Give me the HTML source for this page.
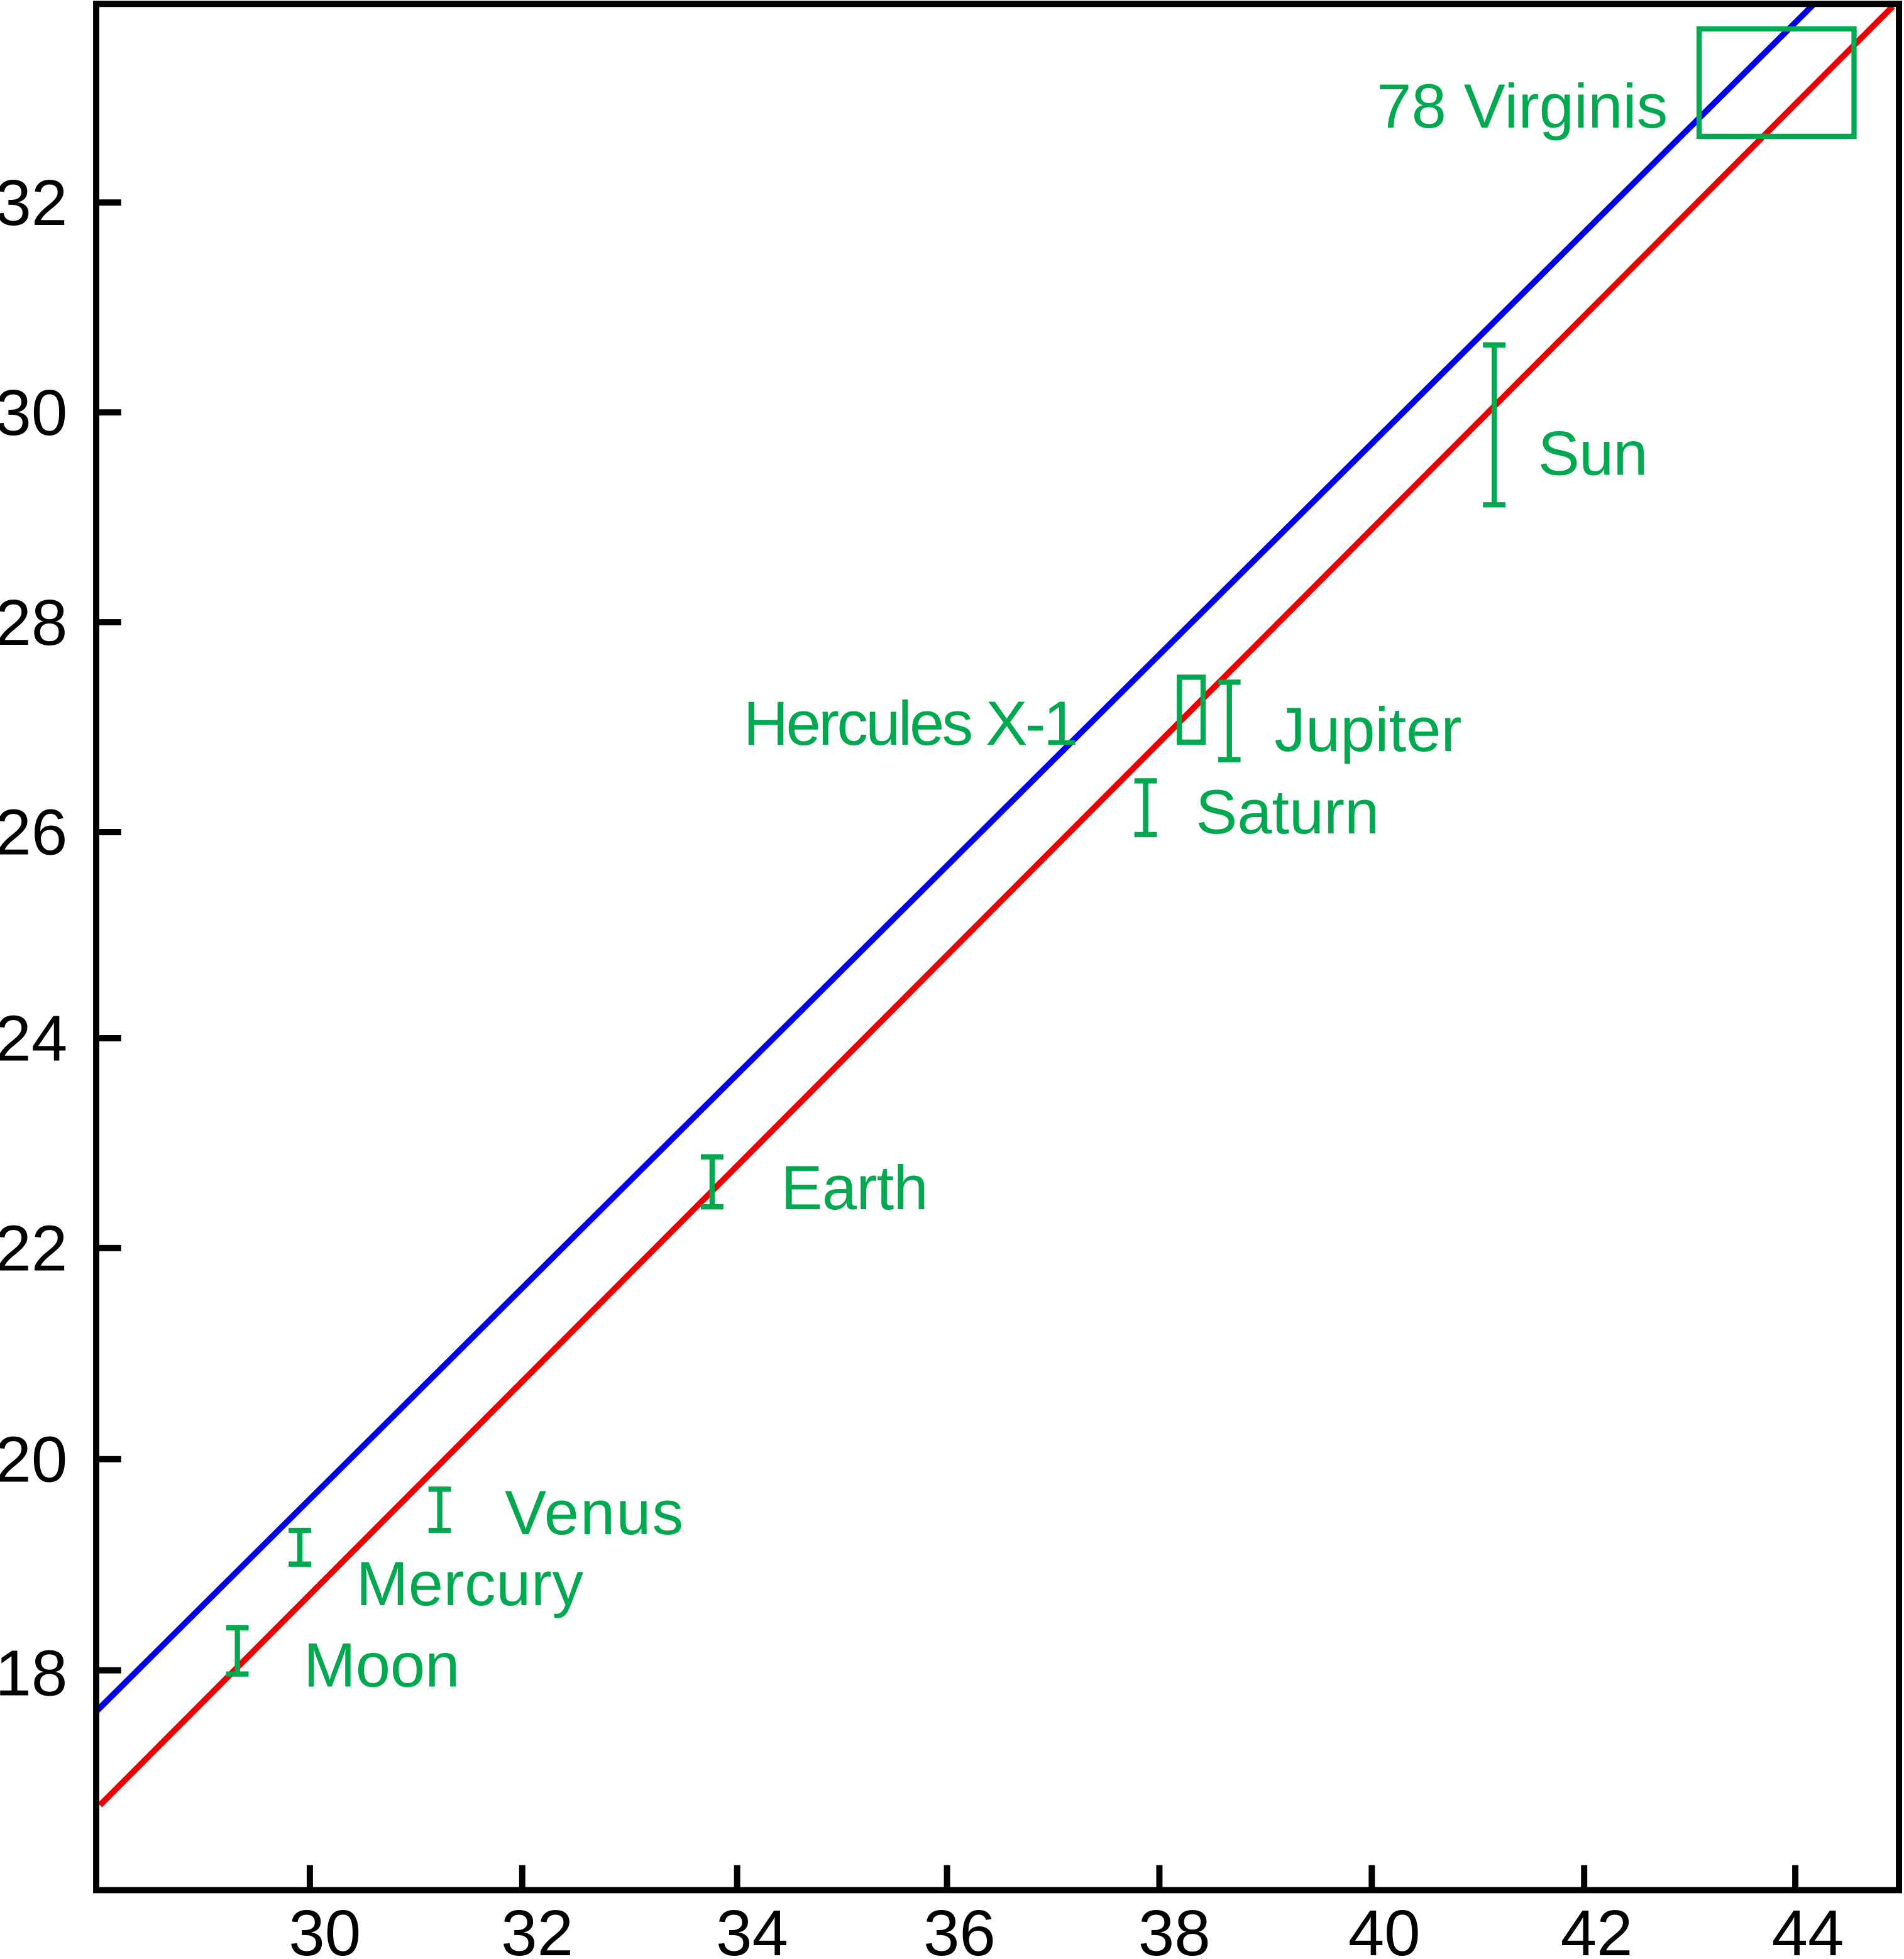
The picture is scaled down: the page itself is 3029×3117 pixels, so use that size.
<!DOCTYPE html>
<html><head><meta charset="utf-8"><style>html,body{margin:0;padding:0;background:#fff}svg{display:block}</style></head>
<body>
<svg width="3029" height="3117" viewBox="0 0 1524 1568" xmlns="http://www.w3.org/2000/svg" font-family="Liberation Sans, Arial, sans-serif">
<rect width="1524" height="1568" fill="#fff"/>
<g stroke="#0000ee" stroke-width="4.8" fill="none"><line x1="77" y1="1370" x2="1452" y2="3"/></g>
<g stroke="#ee0000" stroke-width="4.8" fill="none"><line x1="80" y1="1445" x2="1515" y2="5"/></g>
<g stroke="#00a84f" stroke-width="4.2" fill="none">
<path d="M181 1303h18M190 1303v37M181 1340h18"/>
<path d="M231 1225h18M240 1225v27M231 1252h18"/>
<path d="M343 1192h18M352 1192v33M343 1225h18"/>
<path d="M561 926h18M570 926v40M561 966h18"/>
<path d="M908 625h18M917 625v43M908 668h18"/>
<path d="M975 546h18M984 546v62M975 608h18"/>
<path d="M1187 276h18M1196 276v128M1187 404h18"/>
<rect x="944" y="542" width="19" height="52"/>
<rect x="1360" y="23" width="124" height="86"/>
</g>
<g fill="#00a84f" font-size="50">
<text x="243" y="1350" textLength="125">Moon</text>
<text x="285" y="1285" textLength="182">Mercury</text>
<text x="404" y="1228" textLength="143">Venus</text>
<text x="625" y="968" textLength="118">Earth</text>
<text x="957" y="667" textLength="147">Saturn</text>
<text x="1020" y="601" textLength="150">Jupiter</text>
<text x="1231" y="380" textLength="88">Sun</text>
<text x="595" y="596" textLength="268">Hercules X-1</text>
<text x="1102" y="102" textLength="233">78 Virginis</text>
</g>
<g stroke="#000" stroke-width="5" fill="none">
<rect x="77" y="3" width="1443" height="1510"/>
<path d="M77 162h20M77 330h20M77 498h20M77 666h20M77 831h20M77 999h20M77 1168h20M77 1337h20"/>
<path d="M248 1513v-20M418 1513v-20M590 1513v-20M758 1513v-20M928 1513v-20M1098 1513v-20M1268 1513v-20M1437 1513v-20"/>
</g>
<g fill="#000" font-size="52" text-anchor="end">
<text x="54" y="180">32</text>
<text x="54" y="348">30</text>
<text x="54" y="516">28</text>
<text x="54" y="684">26</text>
<text x="54" y="849">24</text>
<text x="54" y="1017">22</text>
<text x="54" y="1186">20</text>
<text x="54" y="1357">18</text>
</g>
<g fill="#000" font-size="52" text-anchor="middle">
<text x="260" y="1565">30</text>
<text x="430" y="1565">32</text>
<text x="602" y="1565">34</text>
<text x="768" y="1565">36</text>
<text x="940" y="1565">38</text>
<text x="1108" y="1565">40</text>
<text x="1278" y="1565">42</text>
<text x="1447" y="1565">44</text>
</g>
</svg>
</body></html>
